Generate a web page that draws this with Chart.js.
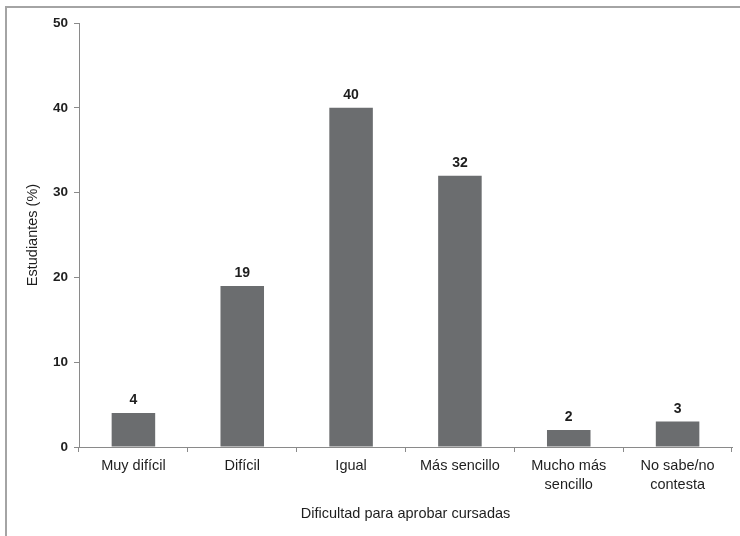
<!DOCTYPE html>
<html>
<head>
<meta charset="utf-8">
<script src="https://cdn.jsdelivr.net/npm/chart.js@4"></script>
<style>
  html, body { margin: 0; padding: 0; background: #fff; overflow: hidden; }
  #wrap { position: relative; width: 740px; height: 536px; }
  #frame { position: absolute; left: 5px; top: 6px; width: 800px; height: 600px;
           border-left: 2px solid #a4a4a4; border-top: 2px solid #a4a4a4; }
  canvas { position: absolute; left: 0; top: 0; }
</style>
</head>
<body>
<div id="wrap">
  <div id="frame"></div>
  <canvas id="c" width="740" height="536"></canvas>
</div>
<script>
// Dificultad percibida para aprobar cursadas (% de estudiantes)
const categories = ['Muy difícil', 'Difícil', 'Igual', 'Más sencillo', ['Mucho más', 'sencillo'], ['No sabe/no', 'contesta']];
const porcentajes = [4, 19, 40, 32, 2, 3];
const yTicks = [0, 10, 20, 30, 40, 50];

const FONT = '"Liberation Sans", Arial, sans-serif';
const INK = '#1e1e1e';
const AXIS = '#8a8a8a';

// Etiqueta de valor sobre cada barra
const valueLabels = {
  id: 'valueLabels',
  afterDatasetsDraw(chart) {
    const ctx = chart.ctx;
    const meta = chart.getDatasetMeta(0);
    ctx.save();
    ctx.font = 'bold 14px ' + FONT;
    ctx.fillStyle = INK;
    ctx.textAlign = 'center';
    ctx.textBaseline = 'alphabetic';
    meta.data.forEach((bar, i) => {
      ctx.fillText(String(porcentajes[i]), bar.x, bar.y - 9);
    });
    ctx.restore();
  }
};

new Chart(document.getElementById('c'), {
  type: 'bar',
  data: {
    labels: categories,
    datasets: [{
      data: porcentajes,
      backgroundColor: '#6b6d6f',
      borderWidth: 0,
      barPercentage: 0.4,
      categoryPercentage: 1.0
    }]
  },
  options: {
    responsive: false,
    animation: false,
    layout: { padding: { top: 23, right: 8, bottom: 0, left: 0 } },
    plugins: { legend: { display: false }, tooltip: { enabled: false } },
    scales: {
      x: {
        grid: { drawOnChartArea: false, tickLength: 5, color: AXIS, offset: true },
        border: { color: AXIS, width: 1 },
        ticks: { color: INK, font: { family: FONT, size: 14.5, lineHeight: 1.3 }, padding: 5, maxRotation: 0, autoSkip: false },
        title: { display: true, text: 'Dificultad para aprobar cursadas', color: INK,
                 font: { family: FONT, size: 14.5 }, padding: { top: 0, bottom: 13 } },
        afterFit(scale) { scale.height = 89; }
      },
      y: {
        min: 0, max: 50,
        afterBuildTicks(scale) { scale.ticks = yTicks.map(v => ({ value: v })); },
        grid: { drawOnChartArea: false, tickLength: 5, color: AXIS },
        border: { color: AXIS, width: 1 },
        ticks: { color: INK, font: { family: FONT, size: 13.5, weight: 'bold' }, padding: 6 },
        title: { display: true, text: 'Estudiantes (%)', color: INK,
                 font: { family: FONT, size: 14.5 }, padding: { top: 24, bottom: 0 } },
        afterFit(scale) { scale.width = 79; }
      }
    }
  },
  plugins: [valueLabels]
});
</script>
</body>
</html>
